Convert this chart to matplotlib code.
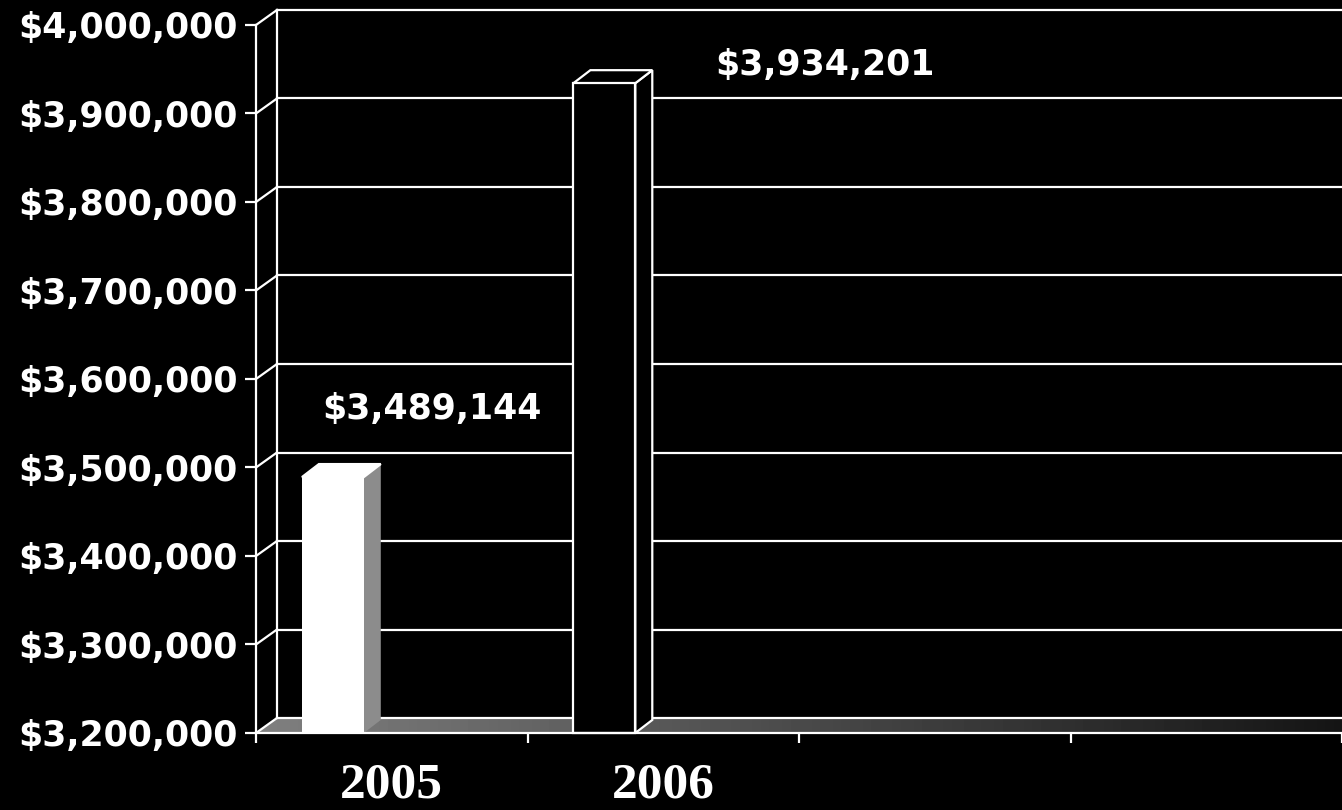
import numpy as np
import matplotlib.pyplot as plt
from matplotlib.patches import Polygon
from matplotlib.ticker import FuncFormatter

# Data
years = ['2005', '2006']
revenue = [3489144, 3934201]
y_ticks = list(range(3200000, 4000001, 100000))

fig = plt.figure(figsize=(13.42, 8.10), dpi=100, facecolor='black')
ax = fig.add_axes([0.1908, 0.0951, 0.8092, 0.8741])
ax.set_facecolor('black')

# fake 3D depth offsets (data units)
wall_dx, wall_dy = 0.077, 16900
bar_dx, bar_dy = 0.0625, 14700
bar_w = 0.228
bar_shift = -0.217
base = y_ticks[0]
lw = 1.6

# floor with a grey fade to the right
floor = Polygon([(-0.5, base), (3.5, base), (3.5, base + wall_dy),
                 (-0.5 + wall_dx, base + wall_dy)],
                facecolor='none', edgecolor='none', zorder=1)
ax.add_patch(floor)
grad = np.linspace(0.5, 0.08, 256).reshape(1, -1)
im = ax.imshow(grad, cmap='gray', vmin=0, vmax=1, aspect='auto',
               extent=(-0.5, 3.5, base, base + wall_dy), zorder=1)
im.set_clip_path(floor)

ax.set_xlim(-0.5, 3.5)
ax.set_ylim(y_ticks[0], y_ticks[-1])

# back wall gridlines + side wall diagonals
for v in y_ticks:
    ax.plot([-0.5 + wall_dx, 3.5], [v + wall_dy, v + wall_dy],
            color='white', lw=lw, clip_on=False, zorder=2)
    ax.plot([-0.5, -0.5 + wall_dx], [v, v + wall_dy],
            color='white', lw=lw, clip_on=False, zorder=2)
ax.plot([-0.5 + wall_dx, -0.5 + wall_dx], [base + wall_dy, y_ticks[-1] + wall_dy],
        color='white', lw=lw, clip_on=False, zorder=2)

# bars
front_cols = ['white', 'black']
side_cols = ['#8c8c8c', 'black']
edge_cols = ['none', 'white']
label_offsets = [(71, 49), (159, 13)]  # points
for i, v in enumerate(revenue):
    x0 = i + bar_shift - bar_w / 2
    x1 = x0 + bar_w
    side = Polygon([(x1, base), (x1 + bar_dx, base + bar_dy),
                    (x1 + bar_dx, v + bar_dy), (x1, v)],
                   facecolor=side_cols[i], edgecolor=edge_cols[i], lw=lw,
                   clip_on=False, zorder=4)
    top = Polygon([(x0, v), (x1, v), (x1 + bar_dx, v + bar_dy), (x0 + bar_dx, v + bar_dy)],
                  facecolor=front_cols[i], edgecolor='white', lw=lw,
                  clip_on=False, zorder=4)
    front = Polygon([(x0, base), (x1, base), (x1, v), (x0, v)],
                    facecolor=front_cols[i], edgecolor=edge_cols[i], lw=lw,
                    clip_on=False, zorder=5)
    for p in (side, top, front):
        ax.add_patch(p)
    ax.annotate('${:,.0f}'.format(v), xy=(i + bar_shift, v),
                xytext=label_offsets[i], textcoords='offset points',
                ha='center', va='center', color='white',
                fontsize=25, fontweight='bold', family='DejaVu Sans', zorder=6)

# axes styling
for s in ['top', 'right']:
    ax.spines[s].set_visible(False)
for s in ['left', 'bottom']:
    ax.spines[s].set_color('white')
    ax.spines[s].set_linewidth(lw)
    ax.spines[s].set_zorder(6)

ax.set_yticks(y_ticks)
ax.yaxis.set_major_formatter(FuncFormatter(lambda v, p: '${:,.0f}'.format(v)))
ax.tick_params(axis='y', colors='white', length=8, width=lw, pad=5, labelsize=25)
for t in ax.get_yticklabels():
    t.set_fontweight('bold')
    t.set_family('DejaVu Sans')

ax.set_xticks(range(len(years)))
ax.set_xticklabels(years)
ax.set_xticks([-0.5, 0.5, 1.5, 2.5, 3.5], minor=True)
ax.tick_params(axis='x', which='major', length=0, pad=21, colors='white', labelsize=37)
ax.tick_params(axis='x', which='minor', length=7, width=lw, colors='white')
for t in ax.get_xticklabels():
    t.set_fontweight('bold')
    t.set_family('Liberation Serif')

fig.savefig('out.png', dpi=100, facecolor='black')
